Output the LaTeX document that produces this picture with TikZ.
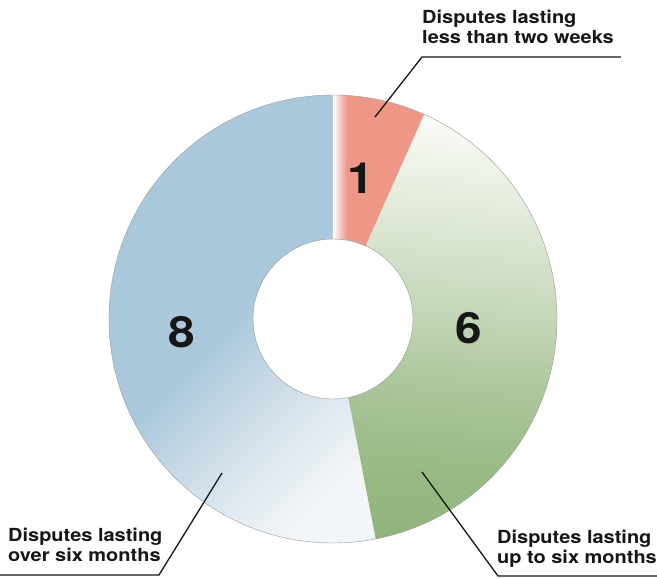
\documentclass[tikz,border=0pt]{standalone}
\usepackage{fontspec}
\setmainfont{TeX Gyre Heros}[FakeStretch=1.11]
\definecolor{ink}{RGB}{22,22,22}
\definecolor{salmon}{RGB}{238,151,135}
\definecolor{bA}{RGB}{169,200,220}
\definecolor{bB}{RGB}{196,215,228}
\definecolor{bC}{RGB}{222,232,239}
\definecolor{bD}{RGB}{243,246,248}
\definecolor{gA}{RGB}{248,250,245}
\definecolor{gB}{RGB}{226,235,218}
\definecolor{gC}{RGB}{200,217,188}
\definecolor{gD}{RGB}{174,200,158}
\definecolor{gE}{RGB}{155,187,135}
\definecolor{gF}{RGB}{144,179,123}
\pgfdeclarehorizontalshading{blueshade}{100bp}{color(0bp)=(bA); color(44.2bp)=(bA); color(49.2bp)=(bB); color(54.6bp)=(bC); color(60.4bp)=(bD); color(100bp)=(bD)}
\pgfdeclarehorizontalshading{greenshade}{100bp}{color(0bp)=(gA); color(33bp)=(gA); color(40bp)=(gB); color(47.5bp)=(gC); color(54.2bp)=(gD); color(60.8bp)=(gE); color(68.3bp)=(gF); color(100bp)=(gF)}
\begin{document}
\begin{tikzpicture}[x=1pt,y=1pt,
  lbl/.style={font=\fontsize{18}{20}\selectfont\bfseries, text=ink, align=left, inner sep=0pt, anchor=north west},
  num/.style={font=\fontsize{43}{43}\selectfont\bfseries, text=ink, inner sep=0pt},
  lead/.style={draw=ink, line width=1.3pt},
  rim/.style={draw=black!40, line width=0.4pt}]
\useasboundingbox (-333,-260) rectangle (324,319);
\def\rOut{224}
\def\rIn{80}
% blue sector (8)
\begin{scope}
  \clip (90:\rOut) arc (90:281:\rOut) -- (281:\rIn) arc (281:90:\rIn) -- cycle;
  \begin{scope}[transform canvas={rotate=-45}]
    \shade[shading=blueshade] (-300,-300) rectangle (300,300);
  \end{scope}
\end{scope}
% green sector (6)
\begin{scope}
  \clip (66:\rOut) arc (66:-79:\rOut) -- (-79:\rIn) arc (-79:66:\rIn) -- cycle;
  \begin{scope}[transform canvas={rotate=-95}]
    \shade[shading=greenshade] (-300,-300) rectangle (300,300);
  \end{scope}
\end{scope}
% red sector (1)
\begin{scope}
  \clip (66:\rOut) arc (66:90:\rOut) -- (90:\rIn) arc (90:66:\rIn) -- cycle;
  \fill[salmon] (-10,0) rectangle (120,240);
  \shade[left color=white, right color=salmon] (0,0) rectangle (14,240);
\end{scope}
\draw[rim] (0,0) circle (\rOut);
\draw[rim] (0,0) circle (\rIn);
% numbers
\node[num] (nOne) at (28,141) {1};
\node[num] (nSix) at (136,-9) {6};
\node[num] (nEight) at (-151,-13) {8};
% labels
\node[lbl] (lblTop) at (89,309) {Disputes lasting\\less than two weeks};
\node[lbl] (lblBL) at (-325,-209) {Disputes lasting\\over six months};
\node[lbl] (lblBR) at (164,-211) {Disputes lasting\\up to six months};
\coordinate (tipTop) at (42,202);
\coordinate (ulTopA) at (89,262);
\coordinate (ulTopB) at (288,262);
\coordinate (tipBL) at (-111,-154);
\coordinate (ulBLB) at (-174,-256);
\coordinate (ulBLA) at (-333,-256);
\coordinate (tipBR) at (89,-153);
\coordinate (ulBRA) at (165,-257);
\coordinate (ulBRB) at (324,-257);
\draw[lead] (tipTop) -- (ulTopA) -- (ulTopB);
\draw[lead] (tipBL) -- (ulBLB) -- (ulBLA);
\draw[lead] (tipBR) -- (ulBRA) -- (ulBRB);
\end{tikzpicture}
\end{document}
